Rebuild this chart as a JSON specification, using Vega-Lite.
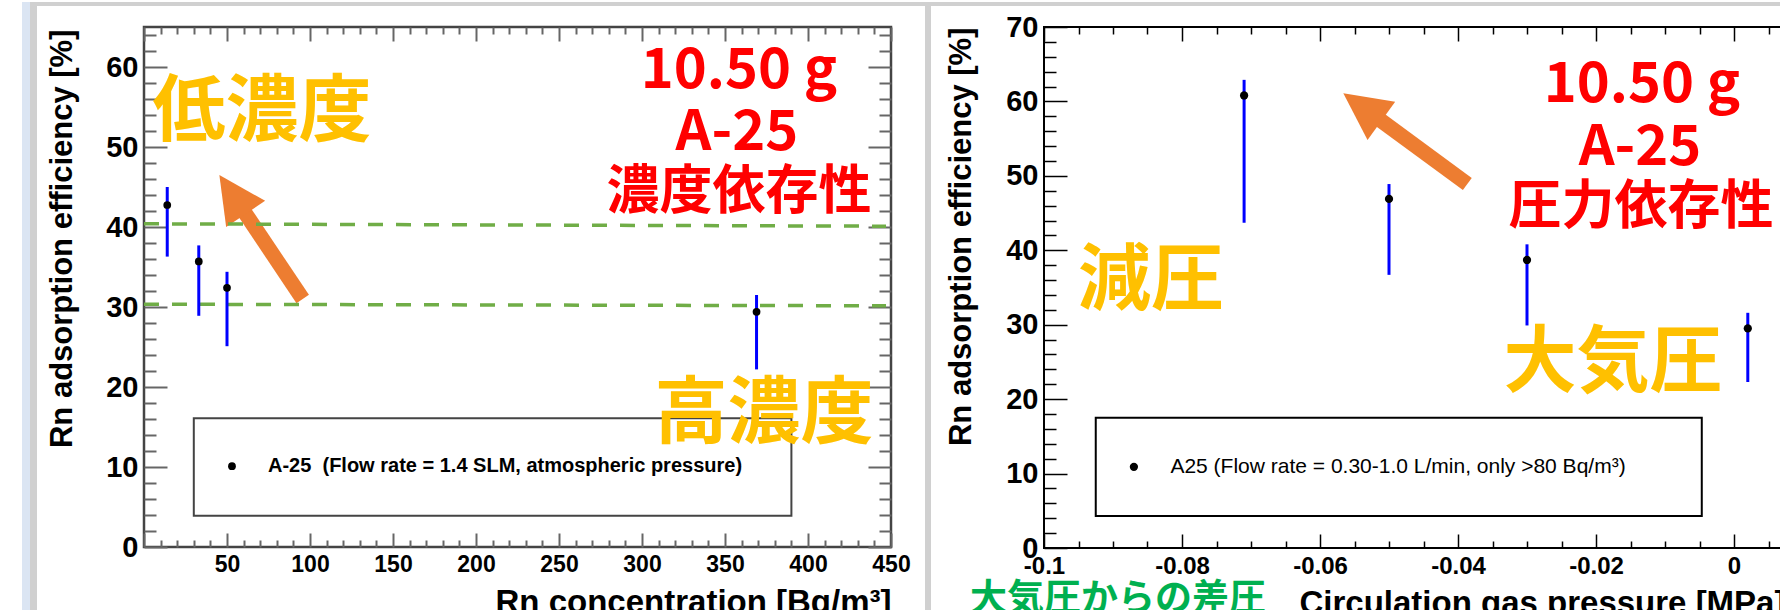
{
  "$schema": "https://vega.github.io/schema/vega-lite/v6.json",
  "background": "white",
  "padding": {"left": 20, "top": 0, "right": 0, "bottom": 0},
  "autosize": {"type": "pad"},
  "config": {"font": "Liberation Sans"},
  "datasets": {
    "leftPts": [
      {"conc": 14, "eff": 42.75, "lo": 36.3, "hi": 45.0},
      {"conc": 33, "eff": 35.7, "lo": 28.9, "hi": 37.7},
      {"conc": 50, "eff": 32.4, "lo": 25.1, "hi": 34.4},
      {"conc": 369, "eff": 29.4, "lo": 22.2, "hi": 31.5}
    ],
    "leftLines": [
      {"x": 0, "y": 40.4, "x2": 447, "y2": 40.1},
      {"x": 0, "y": 30.35, "x2": 447, "y2": 30.15}
    ],
    "slideGrey": [
      {"x": 470.48, "x2": 474.1, "y": 68.125, "y2": -8.125},
      {"x": -68.67, "x2": -64.46, "y": 68.125, "y2": -8.125},
      {"x": -68.67, "x2": 470.48, "y": 68.125, "y2": 67.625}
    ],
    "slideBlue": [
      {"x": -73.49, "x2": -68.67, "y": 68.125, "y2": -8.125}
    ],
    "slideGreyRight": [
      {"x": -0.116377, "x2": 0.006812, "y": 73.357, "y2": 72.82}
    ],
    "leftBox": [{"x": 30, "x2": 390, "y": 16.1, "y2": 3.9}],
    "leftMarker": [{"x": 53, "y": 10.1}],
    "leftLegend": [{"x": 74.7, "y": 10.1, "t": "A-25\u00a0 (Flow rate = 1.4 SLM, atmospheric pressure)"}],
    "leftShaft": [{"x": 95.6, "y": 31.0, "x2": 58.8, "y2": 42.4}],
    "leftHead": [{"x": 45.4, "y": 46.5}],
    "leftGold": [{"x": 71.1, "y": 51.5, "t": "低濃度"}, {"x": 373.5, "y": 13.75, "t": "高濃度"}],
    "leftRedLatin": [{"x": 358.4, "y": 57.4, "t": "10.50 g"}, {"x": 357.2, "y": 49.6, "t": "A-25"}],
    "leftRedCJK": [{"x": 358.4, "y": 42.25, "t": "濃度依存性"}],
    "rightPts": [
      {"p": -0.071, "eff": 60.8, "lo": 43.7, "hi": 62.9},
      {"p": -0.05, "eff": 46.9, "lo": 36.7, "hi": 48.9},
      {"p": -0.03, "eff": 38.7, "lo": 29.9, "hi": 40.8},
      {"p": 0.002, "eff": 29.5, "lo": 22.3, "hi": 31.6}
    ],
    "rightBox": [{"x": -0.0925, "x2": -0.00467, "y": 17.5, "y2": 4.3}],
    "rightMarker": [{"x": -0.08697, "y": 10.9}],
    "rightLegend": [{"x": -0.08168, "y": 10.9, "t": "A25 (Flow rate = 0.30-1.0 L/min, only >80 Bq/m³)"}],
    "rightShaft": [{"x": -0.03865, "y": 48.9, "x2": -0.05194, "y2": 57.96}],
    "rightHead": [{"x": -0.05662, "y": 61.1}],
    "rightGold": [{"x": -0.08449, "y": 32.8, "t": "減圧"}, {"x": -0.01754, "y": 21.8, "t": "大気圧"}],
    "rightRedLatin": [{"x": -0.01333, "y": 59.9, "t": "10.50 g"}, {"x": -0.01362, "y": 51.5, "t": "A-25"}],
    "rightRedCJK": [{"x": -0.01348, "y": 43.5, "t": "圧力依存性"}],
    "rightGreen": [{"x": -0.08928, "y": -8.47, "t": "大気圧からの差圧"}]
  },
  "hconcat": [
    {
      "width": 747,
      "height": 520,
      "view": {"stroke": "#444444", "strokeWidth": 2.5},
      "resolve": {"axis": {"x": "independent", "y": "independent"}},
      "layer": [
        {
          "data": {"name": "slideGrey"},
          "mark": {"type": "rect", "fill": "#d0d0d0"},
          "encoding": {
            "x": {"field": "x", "type": "quantitative", "scale": {"domain": [0, 450], "nice": false, "zero": false}, "axis": null},
            "x2": {"field": "x2"},
            "y": {"field": "y", "type": "quantitative", "scale": {"domain": [0, 65], "nice": false, "zero": false}, "axis": null},
            "y2": {"field": "y2"}
          }
        },
        {
          "data": {"name": "slideBlue"},
          "mark": {"type": "rect", "fill": "#dbe5f3"},
          "encoding": {
            "x": {"field": "x", "type": "quantitative", "scale": {"domain": [0, 450], "nice": false, "zero": false}, "axis": null},
            "x2": {"field": "x2"},
            "y": {"field": "y", "type": "quantitative", "scale": {"domain": [0, 65], "nice": false, "zero": false}, "axis": null},
            "y2": {"field": "y2"}
          }
        },
        {
          "data": {"name": "leftBox"},
          "mark": {"type": "rect", "fill": "white", "stroke": "#444444", "strokeWidth": 2},
          "encoding": {
            "x": {"field": "x", "type": "quantitative", "scale": {"domain": [0, 450], "nice": false, "zero": false}, "axis": null},
            "x2": {"field": "x2"},
            "y": {"field": "y", "type": "quantitative", "scale": {"domain": [0, 65], "nice": false, "zero": false}, "axis": null},
            "y2": {"field": "y2"}
          }
        },
        {
          "data": {"name": "leftMarker"},
          "mark": {"type": "point", "filled": true, "fill": "black", "opacity": 1, "size": 60, "strokeWidth": 0},
          "encoding": {
            "x": {"field": "x", "type": "quantitative", "scale": {"domain": [0, 450], "nice": false, "zero": false}, "axis": null},
            "y": {"field": "y", "type": "quantitative", "scale": {"domain": [0, 65], "nice": false, "zero": false}, "axis": null}
          }
        },
        {
          "data": {"name": "leftLegend"},
          "mark": {"type": "text", "font": "Liberation Sans", "fontWeight": "bold", "fontSize": 20, "fill": "black", "align": "left", "baseline": "middle"},
          "encoding": {
            "x": {"field": "x", "type": "quantitative", "scale": {"domain": [0, 450], "nice": false, "zero": false}, "axis": null},
            "y": {"field": "y", "type": "quantitative", "scale": {"domain": [0, 65], "nice": false, "zero": false}, "axis": null},
            "text": {"field": "t"}
          }
        },
        {
          "data": {"name": "leftShaft"},
          "mark": {"type": "rule", "stroke": "#ED7D31", "strokeWidth": 15, "strokeCap": "butt"},
          "encoding": {
            "x": {"field": "x", "type": "quantitative", "scale": {"domain": [0, 450], "nice": false, "zero": false}, "axis": null},
            "x2": {"field": "x2"},
            "y": {"field": "y", "type": "quantitative", "scale": {"domain": [0, 65], "nice": false, "zero": false}, "axis": null},
            "y2": {"field": "y2"}
          }
        },
        {
          "data": {"name": "leftHead"},
          "mark": {"type": "point", "shape": "M0,0L-0.5,1L0.5,1Z", "filled": true, "fill": "#ED7D31", "opacity": 1, "strokeWidth": 0, "size": 8836, "angle": 326},
          "encoding": {
            "x": {"field": "x", "type": "quantitative", "scale": {"domain": [0, 450], "nice": false, "zero": false}, "axis": null},
            "y": {"field": "y", "type": "quantitative", "scale": {"domain": [0, 65], "nice": false, "zero": false}, "axis": null}
          }
        },
        {
          "data": {"name": "leftLines"},
          "mark": {"type": "rule", "stroke": "#70AD47", "strokeWidth": 3.5, "strokeDash": [15, 13]},
          "encoding": {
            "x": {"field": "x", "type": "quantitative", "scale": {"domain": [0, 450], "nice": false, "zero": false}, "axis": null},
            "x2": {"field": "x2"},
            "y": {"field": "y", "type": "quantitative", "scale": {"domain": [0, 65], "nice": false, "zero": false}, "axis": null},
            "y2": {"field": "y2"}
          }
        },
        {
          "data": {"name": "leftPts"},
          "mark": {"type": "rule", "stroke": "#0000FF", "strokeWidth": 3},
          "encoding": {
            "x": {
              "field": "conc", "type": "quantitative",
              "scale": {"domain": [0, 450], "nice": false, "zero": false},
              "axis": {
                "orient": "bottom",
                "values": [0,10,20,30,40,50,60,70,80,90,100,110,120,130,140,150,160,170,180,190,200,210,220,230,240,250,260,270,280,290,300,310,320,330,340,350,360,370,380,390,400,410,420,430,440,450],
                "labelExpr": "datum.value % 50 === 0 && datum.value > 0 ? datum.label : ''",
                "tickSize": {"condition": {"test": "datum.value % 50 === 0", "value": -14}, "value": -7},
                "tickColor": "#666666", "tickWidth": 2, "domain": false, "grid": false,
                "labelFont": "Liberation Sans", "labelFontWeight": "bold", "labelFontSize": 23, "labelColor": "black",
                "labelPadding": 20, "labelFlush": false, "labelOverlap": false,
                "title": "Rn concentration [Bq/m³]", "titleFont": "Liberation Sans", "titleFontWeight": "bold", "titleFontSize": 33, "titleColor": "black",
                "titleAnchor": "end", "titleAlign": "right", "titleBaseline": "top", "titleX": 747, "titleY": 39
              }
            },
            "y": {
              "field": "lo", "type": "quantitative",
              "scale": {"domain": [0, 65], "nice": false, "zero": false},
              "axis": {
                "orient": "left",
                "values": [0,2,4,6,8,10,12,14,16,18,20,22,24,26,28,30,32,34,36,38,40,42,44,46,48,50,52,54,56,58,60,62,64],
                "labelExpr": "datum.value % 10 === 0 ? datum.label : ''",
                "tickSize": {"condition": {"test": "datum.value % 10 === 0", "value": -23}, "value": -12},
                "tickColor": "#666666", "tickWidth": 2, "domain": false, "grid": false,
                "labelFont": "Liberation Sans", "labelFontWeight": "bold", "labelFontSize": 29, "labelColor": "black",
                "labelPadding": 29, "labelFlush": false, "labelOverlap": false,
                "title": "Rn adsorption efficiency [%]", "titleFont": "Liberation Sans", "titleFontWeight": "bold", "titleFontSize": 31, "titleColor": "black",
                "titleAnchor": "end", "titleAngle": 270, "titleAlign": "right", "titleBaseline": "bottom", "titleX": -66, "titleY": 2
              }
            },
            "y2": {"field": "hi"}
          }
        },
        {
          "data": {"name": "leftPts"},
          "mark": {"type": "point", "filled": true, "fill": "black", "opacity": 1, "size": 60, "strokeWidth": 0},
          "encoding": {
            "x": {
              "field": "conc", "type": "quantitative",
              "scale": {"domain": [0, 450], "nice": false, "zero": false},
              "axis": {
                "orient": "top",
                "values": [0,10,20,30,40,50,60,70,80,90,100,110,120,130,140,150,160,170,180,190,200,210,220,230,240,250,260,270,280,290,300,310,320,330,340,350,360,370,380,390,400,410,420,430,440,450],
                "labels": false, "title": null, "domain": false, "grid": false,
                "tickSize": {"condition": {"test": "datum.value % 50 === 0", "value": -14}, "value": -7},
                "tickColor": "#666666", "tickWidth": 2
              }
            },
            "y": {
              "field": "eff", "type": "quantitative",
              "scale": {"domain": [0, 65], "nice": false, "zero": false},
              "axis": {
                "orient": "right",
                "values": [0,2,4,6,8,10,12,14,16,18,20,22,24,26,28,30,32,34,36,38,40,42,44,46,48,50,52,54,56,58,60,62,64],
                "labels": false, "title": null, "domain": false, "grid": false,
                "tickSize": {"condition": {"test": "datum.value % 10 === 0", "value": -23}, "value": -12},
                "tickColor": "#666666", "tickWidth": 2
              }
            }
          }
        },
        {
          "data": {"name": "leftGold"},
          "mark": {"type": "text", "font": "Noto Sans CJK JP", "fontWeight": "bold", "fontSize": 73, "fill": "#FFC000", "align": "center", "baseline": "alphabetic"},
          "encoding": {
            "x": {"field": "x", "type": "quantitative", "scale": {"domain": [0, 450], "nice": false, "zero": false}, "axis": null},
            "y": {"field": "y", "type": "quantitative", "scale": {"domain": [0, 65], "nice": false, "zero": false}, "axis": null},
            "text": {"field": "t"}
          }
        },
        {
          "data": {"name": "leftRedLatin"},
          "mark": {"type": "text", "font": "Noto Sans CJK JP", "fontWeight": "bold", "fontSize": 56, "fill": "#FF0000", "align": "center", "baseline": "alphabetic"},
          "encoding": {
            "x": {"field": "x", "type": "quantitative", "scale": {"domain": [0, 450], "nice": false, "zero": false}, "axis": null},
            "y": {"field": "y", "type": "quantitative", "scale": {"domain": [0, 65], "nice": false, "zero": false}, "axis": null},
            "text": {"field": "t"}
          }
        },
        {
          "data": {"name": "leftRedCJK"},
          "mark": {"type": "text", "font": "Noto Sans CJK JP", "fontWeight": "bold", "fontSize": 53, "fill": "#FF0000", "align": "center", "baseline": "alphabetic"},
          "encoding": {
            "x": {"field": "x", "type": "quantitative", "scale": {"domain": [0, 450], "nice": false, "zero": false}, "axis": null},
            "y": {"field": "y", "type": "quantitative", "scale": {"domain": [0, 65], "nice": false, "zero": false}, "axis": null},
            "text": {"field": "t"}
          }
        }
      ]
    },
    {
      "width": 759,
      "height": 521,
      "view": {"stroke": "black", "strokeWidth": 2},
      "resolve": {"axis": {"x": "independent", "y": "independent"}},
      "layer": [
        {
          "data": {"name": "slideGreyRight"},
          "mark": {"type": "rect", "fill": "#d0d0d0"},
          "encoding": {
            "x": {"field": "x", "type": "quantitative", "scale": {"domain": [-0.1, 0.01], "nice": false, "zero": false}, "axis": null},
            "x2": {"field": "x2"},
            "y": {"field": "y", "type": "quantitative", "scale": {"domain": [0, 70], "nice": false, "zero": false}, "axis": null},
            "y2": {"field": "y2"}
          }
        },
        {
          "data": {"name": "rightBox"},
          "mark": {"type": "rect", "fill": "white", "stroke": "black", "strokeWidth": 2},
          "encoding": {
            "x": {"field": "x", "type": "quantitative", "scale": {"domain": [-0.1, 0.01], "nice": false, "zero": false}, "axis": null},
            "x2": {"field": "x2"},
            "y": {"field": "y", "type": "quantitative", "scale": {"domain": [0, 70], "nice": false, "zero": false}, "axis": null},
            "y2": {"field": "y2"}
          }
        },
        {
          "data": {"name": "rightMarker"},
          "mark": {"type": "point", "filled": true, "fill": "black", "opacity": 1, "size": 68, "strokeWidth": 0},
          "encoding": {
            "x": {"field": "x", "type": "quantitative", "scale": {"domain": [-0.1, 0.01], "nice": false, "zero": false}, "axis": null},
            "y": {"field": "y", "type": "quantitative", "scale": {"domain": [0, 70], "nice": false, "zero": false}, "axis": null}
          }
        },
        {
          "data": {"name": "rightLegend"},
          "mark": {"type": "text", "font": "Liberation Sans", "fontSize": 21, "fill": "black", "align": "left", "baseline": "middle"},
          "encoding": {
            "x": {"field": "x", "type": "quantitative", "scale": {"domain": [-0.1, 0.01], "nice": false, "zero": false}, "axis": null},
            "y": {"field": "y", "type": "quantitative", "scale": {"domain": [0, 70], "nice": false, "zero": false}, "axis": null},
            "text": {"field": "t"}
          }
        },
        {
          "data": {"name": "rightShaft"},
          "mark": {"type": "rule", "stroke": "#ED7D31", "strokeWidth": 15, "strokeCap": "butt"},
          "encoding": {
            "x": {"field": "x", "type": "quantitative", "scale": {"domain": [-0.1, 0.01], "nice": false, "zero": false}, "axis": null},
            "x2": {"field": "x2"},
            "y": {"field": "y", "type": "quantitative", "scale": {"domain": [0, 70], "nice": false, "zero": false}, "axis": null},
            "y2": {"field": "y2"}
          }
        },
        {
          "data": {"name": "rightHead"},
          "mark": {"type": "point", "shape": "M0,0L-0.5,1L0.5,1Z", "filled": true, "fill": "#ED7D31", "opacity": 1, "strokeWidth": 0, "size": 8836, "angle": 306},
          "encoding": {
            "x": {"field": "x", "type": "quantitative", "scale": {"domain": [-0.1, 0.01], "nice": false, "zero": false}, "axis": null},
            "y": {"field": "y", "type": "quantitative", "scale": {"domain": [0, 70], "nice": false, "zero": false}, "axis": null}
          }
        },
        {
          "data": {"name": "rightPts"},
          "mark": {"type": "rule", "stroke": "#0000FF", "strokeWidth": 3},
          "encoding": {
            "x": {
              "field": "p", "type": "quantitative",
              "scale": {"domain": [-0.1, 0.01], "nice": false, "zero": false},
              "axis": {
                "orient": "bottom",
                "values": [-0.1,-0.095,-0.09,-0.085,-0.08,-0.075,-0.07,-0.065,-0.06,-0.055,-0.05,-0.045,-0.04,-0.035,-0.03,-0.025,-0.02,-0.015,-0.01,-0.005,0,0.005,0.01],
                "labelExpr": "abs(round(datum.value*1000)) % 20 === 0 ? (round(datum.value*1000) === 0 ? '0' : (round(datum.value*1000) === -100 ? '-0.1' : '-0.0' + abs(round(datum.value*100)))) : ''",
                "tickSize": {"condition": {"test": "abs(round(datum.value*1000)) % 20 === 0", "value": -14}, "value": -7},
                "tickColor": "black", "tickWidth": 1.5, "domain": false, "grid": false,
                "labelFont": "Liberation Sans", "labelFontWeight": "bold", "labelFontSize": 24, "labelColor": "black",
                "labelPadding": 20, "labelFlush": false, "labelOverlap": false,
                "title": "Circulation gas pressure [MPa]", "titleFont": "Liberation Sans", "titleFontWeight": "bold", "titleFontSize": 33, "titleColor": "black",
                "titleAnchor": "start", "titleAlign": "left", "titleBaseline": "top", "titleX": 255, "titleY": 39
              }
            },
            "y": {
              "field": "lo", "type": "quantitative",
              "scale": {"domain": [0, 70], "nice": false, "zero": false},
              "axis": {
                "orient": "left",
                "values": [0,2,4,6,8,10,12,14,16,18,20,22,24,26,28,30,32,34,36,38,40,42,44,46,48,50,52,54,56,58,60,62,64,66,68,70],
                "labelExpr": "datum.value % 10 === 0 ? datum.label : ''",
                "tickSize": {"condition": {"test": "datum.value % 10 === 0", "value": -23}, "value": -12},
                "tickColor": "black", "tickWidth": 1.5, "domain": false, "grid": false,
                "labelFont": "Liberation Sans", "labelFontWeight": "bold", "labelFontSize": 29, "labelColor": "black",
                "labelPadding": 29, "labelFlush": false, "labelOverlap": false,
                "title": "Rn adsorption efficiency [%]", "titleFont": "Liberation Sans", "titleFontWeight": "bold", "titleFontSize": 31, "titleColor": "black",
                "titleAnchor": "end", "titleAngle": 270, "titleAlign": "right", "titleBaseline": "bottom", "titleX": -67, "titleY": 0
              }
            },
            "y2": {"field": "hi"}
          }
        },
        {
          "data": {"name": "rightPts"},
          "mark": {"type": "point", "filled": true, "fill": "black", "opacity": 1, "size": 68, "strokeWidth": 0},
          "encoding": {
            "x": {
              "field": "p", "type": "quantitative",
              "scale": {"domain": [-0.1, 0.01], "nice": false, "zero": false},
              "axis": {
                "orient": "top",
                "values": [-0.1,-0.095,-0.09,-0.085,-0.08,-0.075,-0.07,-0.065,-0.06,-0.055,-0.05,-0.045,-0.04,-0.035,-0.03,-0.025,-0.02,-0.015,-0.01,-0.005,0,0.005,0.01],
                "labels": false, "title": null, "domain": false, "grid": false,
                "tickSize": {"condition": {"test": "abs(round(datum.value*1000)) % 20 === 0", "value": -14}, "value": -7},
                "tickColor": "black", "tickWidth": 1.5
              }
            },
            "y": {
              "field": "eff", "type": "quantitative",
              "scale": {"domain": [0, 70], "nice": false, "zero": false},
              "axis": {
                "orient": "right",
                "values": [0,2,4,6,8,10,12,14,16,18,20,22,24,26,28,30,32,34,36,38,40,42,44,46,48,50,52,54,56,58,60,62,64,66,68,70],
                "labels": false, "title": null, "domain": false, "grid": false,
                "tickSize": {"condition": {"test": "datum.value % 10 === 0", "value": -23}, "value": -12},
                "tickColor": "black", "tickWidth": 1.5
              }
            }
          }
        },
        {
          "data": {"name": "rightGold"},
          "mark": {"type": "text", "font": "Noto Sans CJK JP", "fontWeight": "bold", "fontSize": 73, "fill": "#FFC000", "align": "center", "baseline": "alphabetic"},
          "encoding": {
            "x": {"field": "x", "type": "quantitative", "scale": {"domain": [-0.1, 0.01], "nice": false, "zero": false}, "axis": null},
            "y": {"field": "y", "type": "quantitative", "scale": {"domain": [0, 70], "nice": false, "zero": false}, "axis": null},
            "text": {"field": "t"}
          }
        },
        {
          "data": {"name": "rightRedLatin"},
          "mark": {"type": "text", "font": "Noto Sans CJK JP", "fontWeight": "bold", "fontSize": 56, "fill": "#FF0000", "align": "center", "baseline": "alphabetic"},
          "encoding": {
            "x": {"field": "x", "type": "quantitative", "scale": {"domain": [-0.1, 0.01], "nice": false, "zero": false}, "axis": null},
            "y": {"field": "y", "type": "quantitative", "scale": {"domain": [0, 70], "nice": false, "zero": false}, "axis": null},
            "text": {"field": "t"}
          }
        },
        {
          "data": {"name": "rightRedCJK"},
          "mark": {"type": "text", "font": "Noto Sans CJK JP", "fontWeight": "bold", "fontSize": 53, "fill": "#FF0000", "align": "center", "baseline": "alphabetic"},
          "encoding": {
            "x": {"field": "x", "type": "quantitative", "scale": {"domain": [-0.1, 0.01], "nice": false, "zero": false}, "axis": null},
            "y": {"field": "y", "type": "quantitative", "scale": {"domain": [0, 70], "nice": false, "zero": false}, "axis": null},
            "text": {"field": "t"}
          }
        },
        {
          "data": {"name": "rightGreen"},
          "mark": {"type": "text", "font": "Noto Sans CJK JP", "fontWeight": "bold", "fontSize": 37, "fill": "#00B050", "align": "center", "baseline": "alphabetic"},
          "encoding": {
            "x": {"field": "x", "type": "quantitative", "scale": {"domain": [-0.1, 0.01], "nice": false, "zero": false}, "axis": null},
            "y": {"field": "y", "type": "quantitative", "scale": {"domain": [0, 70], "nice": false, "zero": false}, "axis": null},
            "text": {"field": "t"}
          }
        }
      ]
    }
  ],
  "spacing": 153,
  "bounds": "flush"
}
